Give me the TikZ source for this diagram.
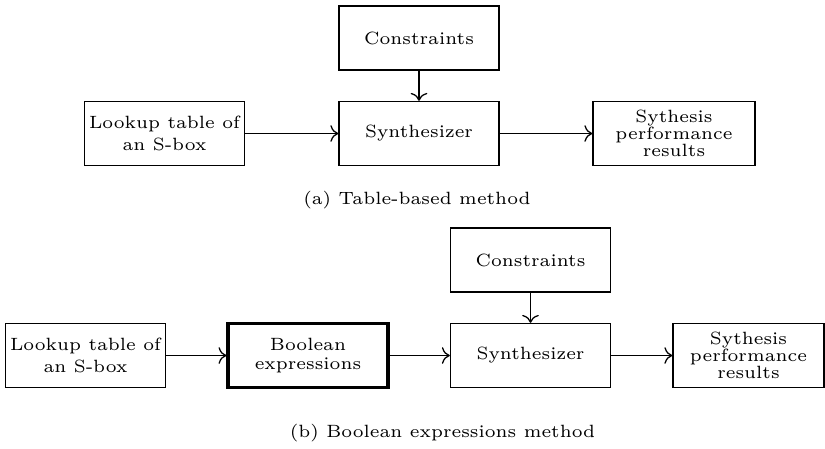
\documentclass[tikz,border=0pt]{standalone}
\usepackage{fontspec}
\newfontfamily\lmsix{lmroman6-regular.otf}
\usetikzlibrary{arrows.meta}
\begin{document}
\begin{tikzpicture}[x=0.3125pt,y=-0.3125pt,
  box/.style={draw, line width=0.4pt, minimum width=160*0.3125pt, minimum height=64*0.3125pt,
    inner sep=0.5pt, align=center, font=\lmsix\fontsize{5.55}{5.31}\selectfont},
  thickbox/.style={box, line width=0.95pt},
  captext/.style={font=\lmsix\fontsize{5.55}{6.5}\selectfont, inner sep=0pt},
  arr/.style={->, line width=0.4pt}]
\useasboundingbox (0,0) rectangle (825,448);
% panel (a)
\node[box] (c1) at (419,38) {Constraints};
\node[box] (s1) at (419,133.5) {Synthesizer};
\node[box] (l1) at (164.5,133.5) {Lookup table of\\[1.75pt]an S-box};
\node[box, minimum width=162*0.3125pt] (r1) at (674,133.5) {Sythesis\\performance\\results};
\draw[arr] (c1) -- (s1);
\draw[arr] (l1) -- (s1);
\draw[arr] (s1) -- (r1);
\node[captext] (ca) at (417,200) {(a) Table-based method};
% panel (b)
\node[box] (c2) at (530.5,260) {Constraints};
\node[box] (s2) at (530.5,355.5) {Synthesizer};
\node[box] (l2) at (85.5,355.5) {Lookup table of\\[1.75pt]an S-box};
\node[thickbox] (b2) at (308,355.5) {Boolean\\[0.8pt]expressions};
\node[box, minimum width=151*0.3125pt] (r2) at (748.5,355.5) {Sythesis\\performance\\results};
\draw[arr] (c2) -- (s2);
\draw[arr] (l2) -- (b2);
\draw[arr] (b2) -- (s2);
\draw[arr] (s2) -- (r2);
\node[captext] (cb) at (442.5,433) {(b) Boolean expressions method};
\end{tikzpicture}
\end{document}
